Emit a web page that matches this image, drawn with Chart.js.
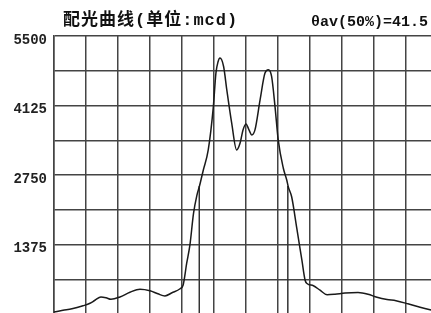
<!DOCTYPE html>
<html>
<head>
<meta charset="utf-8">
<title>配光曲线</title>
<script src="https://cdn.jsdelivr.net/npm/chart.js@4.4.1/dist/chart.umd.min.js"></script>
<style>
  html, body { margin: 0; padding: 0; background: #fff; overflow: hidden; }
  #wrap { width: 460px; height: 330px; }
</style>
</head>
<body>
<div id="wrap"><canvas id="lumChart" width="460" height="330"></canvas></div>
<script>
// ----- Data -----
const angles = [-90, -85.8, -81.6, -76.4, -73.1, -70.8, -68, -65.6, -63.3, -59.1,
  -54.4, -49.7, -45, -41.3, -38, -34.7, -30.9, -29.5, -27.8, -26.3,
  -24.6, -23, -21.8, -20, -17.7, -15.3, -14.1, -13.1, -12.2, -10.5,
  -9, -6.7, -4.4, -2.8, -1.4, 0, 1.4, 2.7, 4.2, 6.6,
  8.9, 10.5, 12, 13.6, 15.1, 17.5, 19.1, 19.8, 21.4, 23.8,
  26.2, 27.7, 28.6, 31.6, 34.7, 38, 41.7, 46.4, 52.5, 57.2,
  61.4, 66.1, 70.3, 75.9, 81.6, 86.3, 90];
const intensity = [40, 73, 103, 163, 212, 272, 337, 321, 291, 337,
  430, 490, 460, 400, 357, 420, 500, 569, 1005, 1362,
  1990, 2353, 2532, 2849, 3246, 4104, 4766, 4990, 5064, 4897,
  4435, 3775, 3246, 3378, 3642, 3761, 3642, 3543, 3642, 4237,
  4766, 4832, 4699, 4104, 3444, 2883, 2651, 2518, 2320, 1699,
  1064, 668, 603, 559, 470, 381, 391, 414, 424, 391,
  331, 286, 262, 202, 133, 83, 54];

// half-intensity markers (50% of peak)
const halfAngles = [-21.9, 19.6];
const halfValue = 2532;

const yMax = 5500;
const yLabelStep = 1375;
const titleText = '配光曲线(单位:mcd)';
const thetaText = 'θav(50%)=41.5';

const gridColor = '#444';

// ----- Header texts -----
const headerPlugin = {
  id: 'header',
  afterDraw(chart) {
    const ctx = chart.ctx;
    ctx.save();
    ctx.fillStyle = '#111';
    ctx.textBaseline = 'middle';
    ctx.textAlign = 'left';
    ctx.font = 'bold 17px "Liberation Mono", "Noto Sans CJK SC"';
    ctx.letterSpacing = '1px';
    ctx.fillText(titleText, 63, 21);
    ctx.letterSpacing = '0px';
    ctx.textAlign = 'right';
    ctx.font = 'bold 15px "Liberation Mono"';
    ctx.fillText(thetaText, 428, 22);
    ctx.restore();
  }
};

const curve = angles.map((a, i) => ({ x: a, y: intensity[i] }));
const halfSets = halfAngles.map(a => ({
  data: [{ x: a, y: 0 }, { x: a, y: halfValue }],
  borderColor: '#333',
  borderWidth: 1.5,
  pointRadius: 0,
  fill: false
}));

new Chart(document.getElementById('lumChart'), {
  type: 'line',
  data: {
    datasets: [
      {
        data: curve,
        borderColor: '#1a1a1a',
        borderWidth: 1.5,
        pointRadius: 0,
        cubicInterpolationMode: 'monotone',
        fill: false
      },
      ...halfSets
    ]
  },
  options: {
    responsive: false,
    animation: false,
    devicePixelRatio: 1,
    layout: { padding: { top: 36, right: 22, left: 0, bottom: 0 } },
    plugins: { legend: { display: false }, tooltip: { enabled: false } },
    scales: {
      x: {
        type: 'linear',
        min: -90,
        max: 90,
        ticks: { stepSize: 15, display: false },
        grid: { color: gridColor, lineWidth: 1.5, drawTicks: false },
        border: { display: false },
        afterFit: s => { s.height = 16; }
      },
      y: {
        min: 0,
        max: yMax,
        ticks: {
          stepSize: yLabelStep / 2,
          callback: v => (v > 0 && v % yLabelStep === 0) ? String(v) : '',
          font: { family: 'Liberation Mono', size: 14, weight: 'bold' },
          color: '#222',
          padding: 7,
          labelOffset: 4
        },
        grid: { color: gridColor, lineWidth: 1.5, drawTicks: false },
        border: { color: gridColor, width: 1.5 },
        afterFit: s => { s.width = 54; }
      }
    }
  },
  plugins: [headerPlugin]
});
</script>
</body>
</html>
